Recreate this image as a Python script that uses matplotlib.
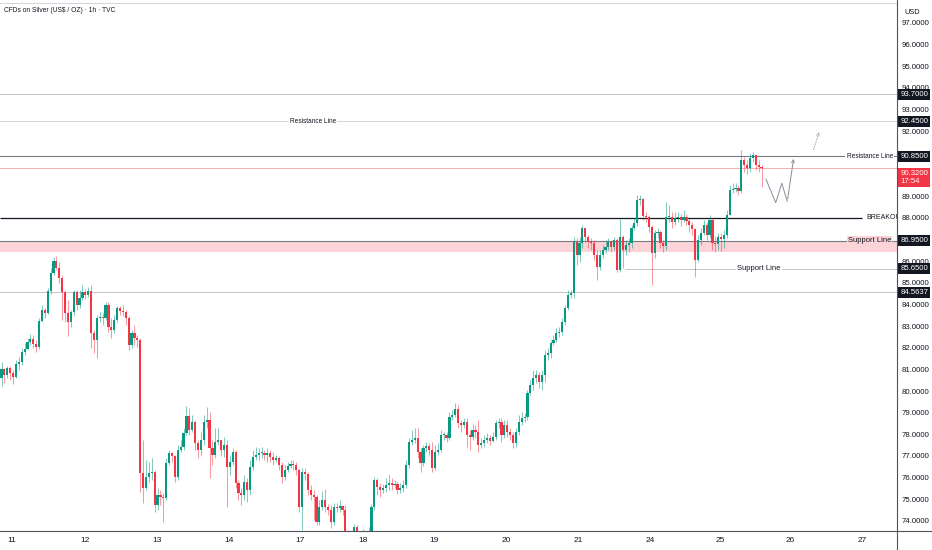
import matplotlib
matplotlib.use('Agg')
import matplotlib.pyplot as plt
from matplotlib.lines import Line2D
import numpy as np

plt.rcParams['font.family'] = ['Liberation Sans', 'DejaVu Sans']

# hourly candles, open of each bar = close of the previous one
first_open = 80.60
close = [
    # 11 - 12
    81.02, 80.74, 81.06, 80.83, 80.65, 81.25, 81.34, 81.80, 81.94, 82.26,
    82.40, 82.17, 82.03, 83.23, 83.74, 83.60, 84.62, 85.45, 86.00, 85.68,
    85.22, 84.57, 83.60, 83.19, 83.65, 84.57, 83.97, 84.30, 84.57, 84.45,
    84.60, 82.68, 82.36, 83.37, 83.42, 83.37, 83.97, 82.96, 82.82, 83.28,
    83.83, 83.70, 83.65, 83.37, 82.12, 82.68, 82.45, 82.36, 76.21,
    # 13 - 14
    75.52, 76.02, 76.21, 76.26, 74.73, 75.20, 75.10, 75.06, 76.67, 77.14,
    77.00, 76.02, 77.28, 77.41, 78.06, 78.85, 78.20, 78.57, 77.60, 77.28,
    77.74, 78.57, 78.66, 77.37, 77.04, 77.65, 77.74, 77.28, 77.51, 76.49,
    76.72, 77.18, 75.75, 75.29, 75.20, 75.80, 75.43, 76.49, 76.95, 77.04,
    # 14 - 18
    77.14, 77.14, 77.04, 77.14, 76.95, 76.81, 76.90, 76.58, 76.02, 76.35,
    76.53, 76.63, 76.58, 76.35, 74.64, 76.26, 76.17, 75.43, 75.20, 75.10,
    73.95, 74.64, 74.97, 74.64, 74.50, 73.95, 74.64, 74.60, 74.69, 74.50,
    73.49, 73.30, 73.20, 73.70, 73.50, 73.40, 73.35, 73.45, 73.40, 74.64,
    75.89,
    # 18 - 20
    75.56, 75.43, 75.52, 75.66, 75.75, 75.66, 75.70, 75.43, 75.52, 75.66,
    76.58, 77.65, 77.74, 77.83, 77.18, 76.67, 77.37, 77.46, 77.28, 76.44,
    77.18, 77.28, 77.97, 77.97, 77.83, 78.80, 78.89, 79.17, 78.52, 78.43,
    78.57, 77.97, 77.88, 78.20, 78.11, 77.51, 77.60, 77.74, 77.83, 77.70,
    77.88, 78.52, 78.57, 77.97, 78.43, 78.11, 77.97, 77.60, 78.11, 78.57,
    78.75, 78.80, 79.91, 80.28, 80.60,
    # 20 - 21
    80.74, 80.42, 80.74, 81.66, 81.76, 82.22, 82.36, 82.68, 82.73, 83.19,
    83.83, 84.43, 84.53, 86.88, 86.28, 86.84, 87.53, 87.11, 86.88, 86.84,
    86.28, 85.73, 86.28, 86.51, 86.65, 86.88, 86.65, 86.97, 85.59, 87.11,
    86.51, 86.74, 86.84, 87.53, 87.76, 88.82,
    # 24 - 25
    88.87, 88.08, 88.04, 87.58, 86.37, 87.30, 87.34, 86.84, 86.70, 88.04,
    88.04, 87.81, 87.99, 88.04, 87.90, 88.04, 87.85, 87.67, 87.48, 86.05,
    86.97, 87.30, 87.67, 87.20, 87.90, 86.84, 86.79, 87.11, 87.02, 87.20,
    88.13, 89.29, 89.33, 89.38, 89.24, 90.67, 90.44, 90.30, 90.76, 90.90,
    90.44, 90.35, 90.32,
]
high = [
    81.34, 81.06, 81.15, 81.15, 80.97, 81.43, 81.57, 81.99, 82.22, 82.45,
    82.63, 82.59, 82.36, 83.37, 83.97, 83.83, 84.76, 85.68, 86.19, 86.24,
    85.96, 85.36, 84.66, 84.20, 83.74, 84.66, 84.66, 84.66, 84.89, 84.70,
    84.80, 84.89, 82.82, 83.51, 83.65, 83.60, 84.11, 84.11, 83.37, 83.51,
    83.93, 83.95, 83.97, 83.74, 83.46, 82.82, 83.05, 82.59, 82.45,
    77.74, 76.81, 76.72, 76.90, 76.35, 75.52, 75.43, 75.29, 76.90, 77.28,
    77.18, 77.04, 77.51, 77.74, 78.29, 79.31, 79.22, 78.90, 78.66, 77.74,
    78.11, 78.90, 79.26, 79.03, 77.74, 78.29, 78.29, 77.74, 77.88, 77.74,
    77.04, 77.37, 77.28, 75.89, 75.52, 76.12, 75.98, 76.81, 77.28, 77.41,
    77.37, 77.41, 77.28, 77.37, 77.28, 77.18, 77.04, 77.00, 76.72, 76.58,
    76.72, 76.81, 76.81, 76.72, 76.44, 76.44, 76.44, 76.26, 75.66, 75.43,
    75.20, 74.97, 75.38, 75.47, 74.78, 74.73, 74.82, 74.82, 74.97, 74.73,
    74.73, 73.60, 73.55, 73.85, 73.80, 73.55, 73.65, 73.55, 73.70, 74.80,
    76.02,
    75.98, 75.75, 75.70, 75.98, 76.12, 75.98, 75.90, 75.80, 75.75, 75.89,
    76.81, 77.83, 78.20, 78.29, 78.29, 77.37, 77.51, 77.65, 77.60, 77.65,
    77.51, 77.60, 78.20, 78.11, 78.11, 79.03, 79.12, 79.45, 79.35, 78.66,
    78.76, 78.76, 78.20, 78.48, 78.43, 78.66, 77.85, 77.97, 78.06, 77.95,
    78.11, 78.66, 78.76, 78.76, 78.66, 78.66, 78.29, 78.11, 78.29, 78.89,
    79.03, 78.98, 80.05, 80.51, 80.97,
    80.97, 80.88, 80.97, 81.89, 81.99, 82.36, 82.59, 82.91, 82.96, 83.37,
    83.97, 84.66, 84.66, 87.11, 87.06, 87.11, 87.67, 87.53, 87.20, 87.06,
    86.97, 86.51, 86.51, 86.74, 86.97, 87.06, 86.97, 87.11, 87.06, 87.95,
    87.20, 86.97, 87.06, 87.67, 87.99, 89.05,
    89.05, 88.91, 88.27, 88.13, 87.67, 87.44, 87.53, 87.44, 86.97, 88.73,
    88.59, 88.27, 88.27, 88.27, 88.18, 88.36, 88.18, 87.99, 87.81, 87.53,
    87.20, 87.53, 87.90, 87.81, 88.13, 87.99, 87.16, 87.30, 87.30, 87.44,
    88.36, 89.52, 89.61, 89.61, 89.52, 91.13, 90.81, 90.67, 90.99, 91.04,
    90.90, 90.67, 90.44,
]
low = [
    80.23, 80.37, 80.60, 80.51, 80.32, 80.60, 80.97, 81.20, 81.66, 81.89,
    82.12, 81.99, 81.80, 81.94, 83.19, 83.37, 83.56, 84.48, 85.36, 85.59,
    84.99, 83.28, 83.19, 82.54, 82.96, 83.46, 83.74, 83.83, 84.20, 84.25,
    84.35, 81.99, 81.76, 81.52, 83.19, 83.05, 83.28, 82.73, 82.45, 82.68,
    83.19, 83.50, 83.46, 83.05, 81.89, 81.99, 82.12, 82.03, 75.33,
    74.82, 75.43, 75.80, 75.89, 74.41, 74.50, 74.73, 73.95, 74.97, 76.58,
    76.72, 75.80, 75.89, 77.18, 77.28, 77.97, 77.97, 78.11, 77.28, 76.90,
    77.04, 77.51, 78.29, 75.98, 76.58, 76.90, 77.51, 77.00, 76.95, 74.64,
    76.12, 76.58, 75.52, 74.97, 74.73, 74.97, 74.87, 75.20, 76.35, 76.81,
    76.81, 76.90, 76.81, 76.72, 76.72, 76.58, 76.72, 76.35, 75.75, 75.89,
    76.26, 76.44, 76.35, 76.12, 74.41, 73.58, 75.89, 75.20, 74.97, 74.04,
    73.81, 73.81, 74.50, 74.41, 74.27, 73.67, 73.81, 74.41, 74.41, 74.27,
    73.10, 72.90, 72.80, 73.20, 73.10, 73.00, 72.90, 73.10, 73.00, 73.30,
    74.50,
    75.20, 75.10, 75.30, 75.33, 75.43, 75.43, 75.50, 75.24, 75.29, 75.33,
    75.52, 76.44, 77.51, 77.60, 76.90, 76.26, 76.53, 77.18, 77.04, 76.26,
    76.35, 77.04, 77.18, 77.74, 77.65, 77.74, 78.66, 78.80, 78.29, 78.11,
    78.29, 77.42, 77.28, 77.74, 77.83, 77.18, 77.35, 77.42, 77.60, 77.50,
    77.65, 77.74, 78.29, 77.65, 77.83, 77.88, 77.74, 77.37, 77.42, 77.97,
    78.43, 78.57, 78.66, 79.82, 80.05,
    80.37, 80.14, 80.05, 80.42, 81.43, 81.52, 82.12, 82.26, 82.50, 82.59,
    83.05, 83.74, 84.30, 84.30, 85.82, 85.96, 86.61, 86.88, 86.61, 86.51,
    86.05, 85.13, 85.59, 86.14, 86.37, 86.51, 86.42, 86.51, 85.50, 85.50,
    85.68, 86.28, 86.42, 86.61, 87.44, 87.62,
    88.59, 87.90, 87.81, 87.34, 84.90, 86.14, 87.06, 86.61, 86.42, 86.51,
    87.81, 87.53, 87.67, 87.81, 87.62, 87.81, 87.67, 87.34, 87.20, 85.27,
    85.96, 86.74, 87.20, 86.97, 87.06, 86.51, 86.42, 86.51, 86.47, 86.61,
    87.06, 88.13, 89.15, 89.19, 89.05, 89.15, 90.12, 90.03, 90.12, 90.58,
    90.21, 90.12, 89.43,
]

# session labels on the time axis (bar index where each day label sits)
day_labels = ['11', '12', '13', '14', '17', '18', '19', '20', '21', '24', '25', '26', '27']
day_pos = [3.6, 28.9, 53.8, 78.7, 103.3, 125.1, 149.7, 174.6, 199.5, 224.4, 248.6, 272.8, 297.8]

# price scale labels (the ones hidden behind the tags are left out)
price_ticks = [74, 75, 76, 77, 78, 79, 80, 81, 82, 83, 84, 85, 86, 88, 89, 92, 93, 94, 95, 96, 97]

# drawn levels
level_prices = [93.70, 92.45, 90.85, 86.95, 85.65, 84.5637]
last_price = 90.32
last_time = '17:54'
breakout = 88.00
zone_low = 86.44
top_line = 97.93

# projected path (bar index, price)
proj_x = [264.5, 267.9, 270.0, 271.9, 274.2]
proj_y = [89.79, 88.70, 89.60, 88.75, 90.85]
dash_x = [280.7, 283.2]
dash_y = [91.03, 92.09]

UP = '#089981'
DOWN = '#f23645'
TXT = '#131722'
FS = 5.6

fig = plt.figure(figsize=(9.32, 5.5), dpi=100)
fig.patch.set_facecolor('white')
ax = fig.add_axes([0, 19 / 550, 897 / 932, 531 / 550])

n = len(close)
x = np.arange(n)
c = np.array(close)
o = np.array([first_open] + close[:-1])
h = np.array(high)
l = np.array(low)
col = np.where(c >= o, UP, DOWN)

ax.vlines(x, l, h, colors=col, lw=0.75, alpha=0.5, zorder=3)
ax.bar(x, np.maximum(np.abs(c - o), 0.05), bottom=np.minimum(o, c), width=0.75,
       color=col, linewidth=0, zorder=4)

xmin, xmax = -0.52, 309.86
ax.set_xlim(xmin, xmax)
ax.set_ylim(73.535, 98.062)

# levels
ax.axhline(top_line, color='#d1d4dc', lw=0.7, zorder=1)
ax.axhline(level_prices[0], color='#c3c5cc', lw=0.7, zorder=1)
ax.axhline(level_prices[1], color='#d1d4dc', lw=0.7, zorder=1)
ax.axhline(level_prices[2], color='#787b86', lw=0.8, zorder=1)
ax.axhline(last_price, color='#f7a9b0', lw=0.7, zorder=1)
ax.hlines(breakout, xmin, 297.8, color=TXT, lw=0.9, zorder=1)
ax.axhspan(zone_low, level_prices[3], color='#fcd3d7', lw=0, zorder=0)
ax.axhline(level_prices[3], color='#787b86', lw=0.8, zorder=1)
ax.hlines(level_prices[4], 215.8, xmax, color='#c3c5cc', lw=0.7, zorder=1)
ax.axhline(level_prices[5], color='#c3c5cc', lw=0.7, zorder=1)

wbox = dict(boxstyle='square,pad=0.2', fc='white', ec='none')
ax.text(107.8, level_prices[1], 'Resistance Line', fontsize=4.7, color=TXT,
        ha='center', va='center', bbox=wbox, zorder=6)
ax.text(300.4, level_prices[2], 'Resistance Line', fontsize=4.7, color=TXT,
        ha='center', va='center', bbox=wbox, zorder=6)
# the label runs under the price scale, as on the original
ax.text(299.1, breakout, 'BREAKOUT', fontsize=5.0, color=TXT, ha='left',
        va='center', bbox=dict(boxstyle='square,pad=0.1', fc='white', ec='none'),
        zorder=6, clip_on=True)
ax.text(300.4, level_prices[3], 'Support Line', fontsize=5.5, color=TXT,
        ha='center', va='center',
        bbox=dict(boxstyle='square,pad=0.15', fc='#fcd3d7', ec='none'), zorder=6)
ax.text(262.1, level_prices[4], 'Support Line', fontsize=5.5, color=TXT,
        ha='center', va='center', bbox=wbox, zorder=6)

# projection
ax.plot(proj_x[:-1], proj_y[:-1], color='#8a8d96', lw=0.7, zorder=5)
ax.annotate('', xy=(proj_x[-1], proj_y[-1]), xytext=(proj_x[-2], proj_y[-2]),
            arrowprops=dict(arrowstyle='->', color='#8a8d96', lw=0.7, mutation_scale=5),
            zorder=5)
ax.annotate('', xy=(dash_x[1], dash_y[1]), xytext=(dash_x[0], dash_y[0]),
            arrowprops=dict(arrowstyle='->', color='#a3a6af', lw=0.7, ls=':', mutation_scale=5),
            zorder=5)

# axes
for s in ax.spines.values():
    s.set_visible(False)
ax.yaxis.tick_right()
ax.set_yticks(price_ticks)
ax.set_yticklabels([f'{v:.4f}' for v in price_ticks])
ax.set_xticks(day_pos)
ax.set_xticklabels(day_labels)
ax.tick_params(axis='y', length=0, pad=3.2, labelsize=FS, labelcolor=TXT)
ax.tick_params(axis='x', length=0, pad=4.5, labelsize=6, labelcolor=TXT)

# price tags
tag_box = dict(boxstyle='square,pad=0.25', fc=TXT, ec='none')
for p in level_prices:
    ax.text(1.0035, p, f'{p:.4f}', transform=ax.get_yaxis_transform(), fontsize=FS,
            color='white', ha='left', va='center', bbox=tag_box, clip_on=False, zorder=7)
ax.text(1.0035, last_price - 0.44, f'{last_price:.4f}\n{last_time}',
        transform=ax.get_yaxis_transform(), fontsize=FS, color='white', ha='left',
        va='center', linespacing=1.25,
        bbox=dict(boxstyle='square,pad=0.25', fc=DOWN, ec='none'), clip_on=False, zorder=7)

fig.add_artist(Line2D([897 / 932, 897 / 932], [0, 1], color='#50535e', lw=0.8))
fig.add_artist(Line2D([0, 1], [19 / 550, 19 / 550], color='#50535e', lw=0.8))

fig.text(4 / 932, 1 - 10 / 550, 'CFDs on Silver (US$ / OZ) · 1h · TVC', fontsize=4.8,
         color=TXT, va='center', ha='left')
fig.text(904 / 932, 1 - 12 / 550, 'USD', fontsize=5.3, color=TXT, va='center', ha='left')

fig.savefig('out.png', dpi=100)
